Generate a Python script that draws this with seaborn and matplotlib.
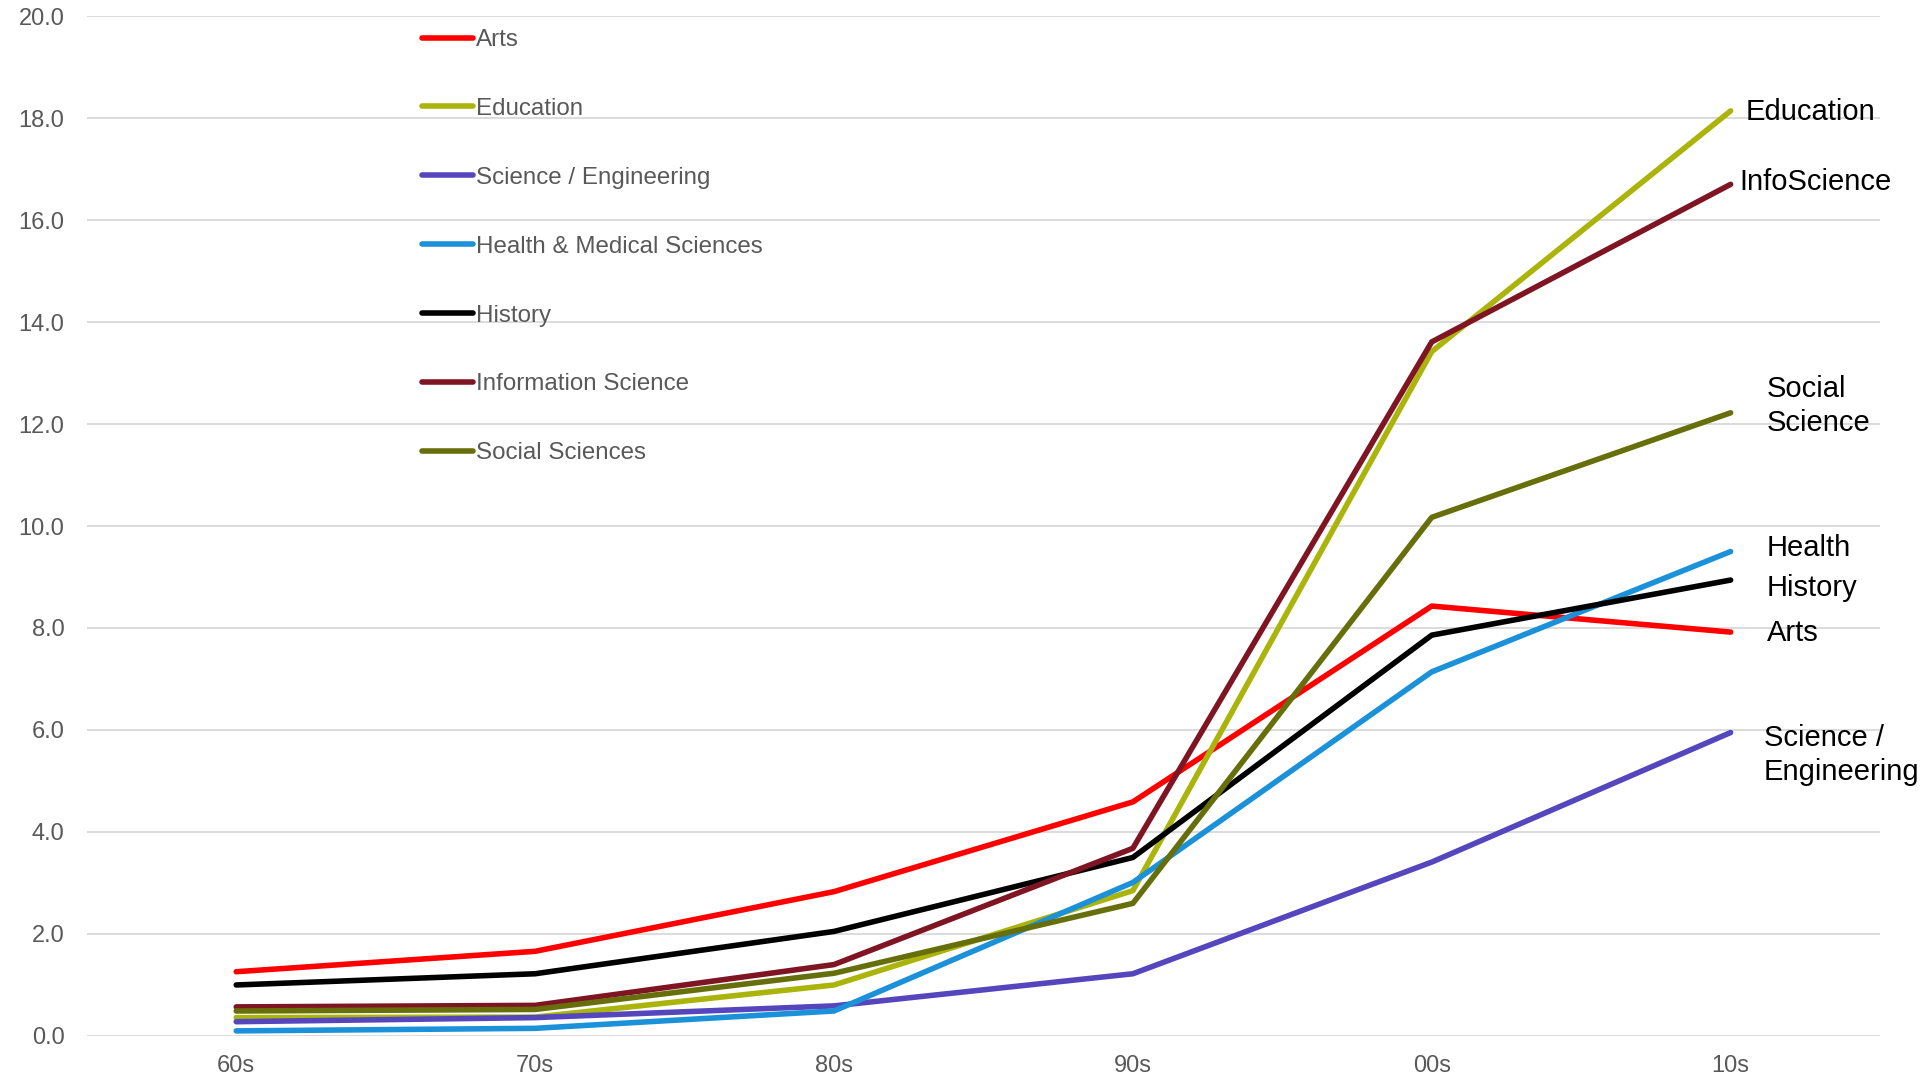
import numpy as np
import pandas as pd
import seaborn as sns
import matplotlib
matplotlib.use("Agg")
import matplotlib.pyplot as plt

# decades on the x axis
decades = ["60s", "70s", "80s", "90s", "00s", "10s"]

# series values
arts = [1.26, 1.66, 2.83, 4.59, 8.43, 7.92]
education = [0.36, 0.37, 1.00, 2.85, 13.42, 18.14]
science_eng = [0.28, 0.36, 0.59, 1.22, 3.41, 5.95]
health = [0.10, 0.15, 0.49, 3.01, 7.14, 9.50]
history = [1.00, 1.22, 2.05, 3.50, 7.86, 8.94]
info_science = [0.57, 0.60, 1.40, 3.68, 13.61, 16.70]
social = [0.49, 0.52, 1.23, 2.60, 10.17, 12.22]

fields = ["Arts", "Education", "Science / Engineering", "Health & Medical Sciences",
          "History", "Information Science", "Social Sciences"]
series = [arts, education, science_eng, health, history, info_science, social]
colors = ["#FF0000", "#AAB40A", "#5546BE", "#1B91D9", "#000000", "#7F1423", "#666F0A"]

# end-of-line labels (text, y position of the label)
end_labels = ["Education", "InfoScience", "Social\nScience", "Health",
              "History", "Arts", "Science /\nEngineering"]
end_label_y = [18.12, 16.75, 12.35, 9.56, 8.78, 7.90, 5.51]
end_label_dx = [0.05, 0.03, 0.12, 0.12, 0.12, 0.12, 0.11]

rows = []
for name, vals in zip(fields, series):
    for d, v in zip(decades, vals):
        rows.append({"decade": d, "value": v, "field": name})
df = pd.DataFrame(rows)

sns.set_style("white")
plt.rcParams["font.family"] = ["Liberation Sans", "DejaVu Sans"]

fig = plt.figure(figsize=(19.2, 10.76), dpi=100)
ax = fig.add_axes([0.0452, 0.0372, 0.934, 0.9479])

sns.lineplot(data=df, x="decade", y="value", hue="field", hue_order=fields,
             palette=dict(zip(fields, colors)), linewidth=4, sort=False, ax=ax)
for ln in ax.lines:
    ln.set_solid_capstyle("round")

ax.set_xlim(-0.5, 5.5)
ax.set_ylim(0, 20)
ax.set_yticks(np.arange(0, 21, 2))
ax.set_yticklabels([f"{t:.1f}" for t in np.arange(0, 21, 2)])
ax.yaxis.grid(True, color="#D9D9D9", linewidth=1.3)
ax.xaxis.grid(False)
ax.set_axisbelow(True)
for s in ax.spines.values():
    s.set_visible(False)
ax.tick_params(axis="y", length=0, pad=16, labelsize=17, labelcolor="#595959")
ax.tick_params(axis="x", length=0, pad=14, labelsize=17, labelcolor="#595959")
ax.set_xlabel("")
ax.set_ylabel("")

# labels at the right end of the lines
for txt, y, dx in zip(end_labels, end_label_y, end_label_dx):
    ax.text(len(decades) - 1 + dx, y, txt, fontsize=21, color="black",
            ha="left", va="center", linespacing=1.28, clip_on=False)

handles, labels = ax.get_legend_handles_labels()
for h in handles:
    h.set_solid_capstyle("round")
    h.set_linewidth(4)
ax.legend(handles, labels, loc="upper left", bbox_to_anchor=(422 / 1920, 1 - 29 / 1076),
          bbox_transform=fig.transFigure, frameon=False, fontsize=17.4,
          labelcolor="#595959", handlelength=2.1, handletextpad=0.15,
          labelspacing=1.94, borderpad=0, borderaxespad=0)

fig.savefig("out.png", dpi=100)
